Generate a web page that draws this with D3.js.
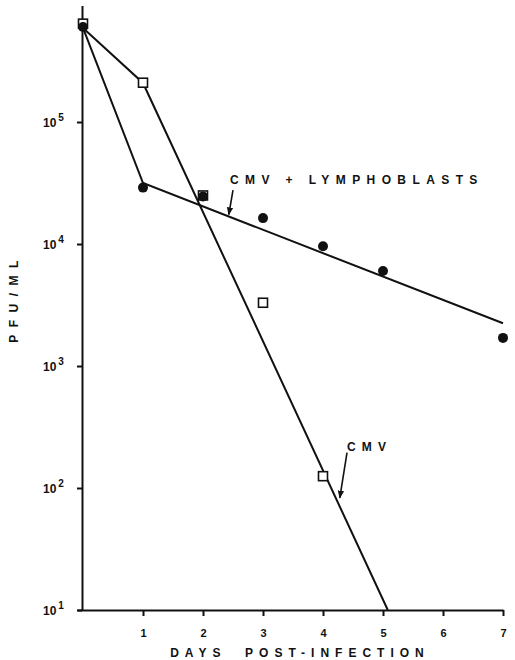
<!DOCTYPE html>
<html>
<head>
<meta charset="utf-8">
<script src="https://cdn.jsdelivr.net/npm/d3@7"></script>
<style>
  body { margin: 0; background: #fff; }
  text { font-family: "Liberation Sans", Arial, sans-serif; font-weight: bold; fill: #111; }
</style>
</head>
<body>
<div id="chart"></div>
<script>
var cmvDays = [0, 1, 2, 3, 4];
var cmvPfu = [640000, 210000, 25000, 3300, 125];
var lymDays = [0, 1, 2, 3, 4, 5, 7];
var lymPfu = [600000, 29000, 24500, 16300, 9600, 6000, 1700];

// drawn lines
var cmvLineDays = [0, 1, 5.08];
var cmvLinePfu = [590000, 209000, 10];
var lymLineDays = [0, 1, 7];
var lymLinePfu = [590000, 31600, 2240];

var xTicks = [1, 2, 3, 4, 5, 6, 7];
var yTicks = [10, 100, 1000, 10000, 100000];
var yExps = ["1", "2", "3", "4", "5"];

var width = 515, height = 660;

var svg = d3.select("#chart")
  .append("svg")
    .attr("width", width)
    .attr("height", height);

var x = d3.scaleLinear()
  .domain([-0.1, 7])
  .range([77, 503]);

var y = d3.scaleLog()
  .domain([10, 900000])
  .range([610, 5.6]);

var defs = svg.append("defs");
defs.append("marker")
  .attr("id", "arrow")
  .attr("viewBox", "0 0 10 10")
  .attr("refX", 9).attr("refY", 5)
  .attr("markerWidth", 5).attr("markerHeight", 6)
  .attr("orient", "auto")
  .append("path")
    .attr("d", "M0,1 L10,5 L0,9 z")
    .attr("fill", "#111");

// X AXIS
var xAxis = svg.append("g")
  .attr("transform", "translate(0,610)")
  .call(d3.axisBottom(x).tickValues(xTicks).tickSize(6).tickSizeOuter(0).tickPadding(13).tickFormat(d3.format("d")));
xAxis.select(".domain").attr("stroke", "#111").attr("stroke-width", 2);
xAxis.selectAll(".tick line").attr("stroke", "#111").attr("stroke-width", 2);
xAxis.selectAll(".tick text").style("font-size", "11px").style("font-weight", "bold");

// Y AXIS
var yAxis = svg.append("g")
  .attr("transform", "translate(82,0)")
  .call(d3.axisLeft(y).tickValues(yTicks).tickSize(5).tickSizeOuter(0).tickFormat(""));
yAxis.select(".domain").attr("stroke", "#111").attr("stroke-width", 2);
yAxis.selectAll(".tick line").attr("stroke", "#111").attr("stroke-width", 2);

var yLab = svg.append("g").selectAll("text")
  .data(yTicks)
  .enter()
  .append("text")
    .attr("x", 43)
    .attr("y", function(d) { return y(d) + 5; })
    .style("font-size", "12px");
yLab.append("tspan").text("10");
yLab.append("tspan")
  .attr("dx", 2)
  .attr("dy", -6)
  .style("font-size", "10px")
  .text(function(d, i) { return yExps[i]; });

// axis titles
svg.append("text")
  .attr("x", 300)
  .attr("y", 657)
  .attr("text-anchor", "middle")
  .attr("xml:space", "preserve")
  .style("font-size", "12px")
  .style("letter-spacing", "6px")
  .text("DAYS  POST-INFECTION");

svg.append("text")
  .attr("transform", "translate(18,298) rotate(-90)")
  .attr("text-anchor", "middle")
  .style("font-size", "12px")
  .style("letter-spacing", "7.5px")
  .text("PFU/ML");

// lines
var line = d3.line()
  .x(function(d) { return x(d[0]); })
  .y(function(d) { return y(d[1]); });

svg.append("path")
  .datum(d3.zip(cmvLineDays, cmvLinePfu))
  .attr("fill", "none")
  .attr("stroke", "#111")
  .attr("stroke-width", 2)
  .attr("d", line);

svg.append("path")
  .datum(d3.zip(lymLineDays, lymLinePfu))
  .attr("fill", "none")
  .attr("stroke", "#111")
  .attr("stroke-width", 2)
  .attr("d", line);

// points
svg.selectAll("rect.cmv")
  .data(d3.zip(cmvDays, cmvPfu))
  .enter()
  .append("rect")
    .attr("class", "cmv")
    .attr("x", function(d) { return x(d[0]) - 4.5; })
    .attr("y", function(d) { return y(d[1]) - 4.5; })
    .attr("width", 9)
    .attr("height", 9)
    .attr("fill", "#fff")
    .attr("stroke", "#111")
    .attr("stroke-width", 1.6);

svg.selectAll("circle.lym")
  .data(d3.zip(lymDays, lymPfu))
  .enter()
  .append("circle")
    .attr("class", "lym")
    .attr("cx", function(d) { return x(d[0]); })
    .attr("cy", function(d) { return y(d[1]); })
    .attr("r", 5)
    .attr("fill", "#111");

// annotations
svg.append("text")
  .attr("x", x(2.45))
  .attr("y", y(33400) + 4)
  .style("font-size", "12px")
  .style("letter-spacing", "6.4px")
  .text("CMV + LYMPHOBLASTS");

svg.append("line")
  .attr("x1", x(2.5)).attr("y1", y(27600))
  .attr("x2", x(2.43)).attr("y2", y(17400))
  .attr("stroke", "#111")
  .attr("stroke-width", 1.6)
  .attr("marker-end", "url(#arrow)");

svg.append("text")
  .attr("x", x(4.4))
  .attr("y", y(218) + 4)
  .style("font-size", "12px")
  .style("letter-spacing", "6.2px")
  .text("CMV");

svg.append("line")
  .attr("x1", x(4.4)).attr("y1", y(195))
  .attr("x2", x(4.28)).attr("y2", y(83))
  .attr("stroke", "#111")
  .attr("stroke-width", 1.6)
  .attr("marker-end", "url(#arrow)");
</script>
</body>
</html>
